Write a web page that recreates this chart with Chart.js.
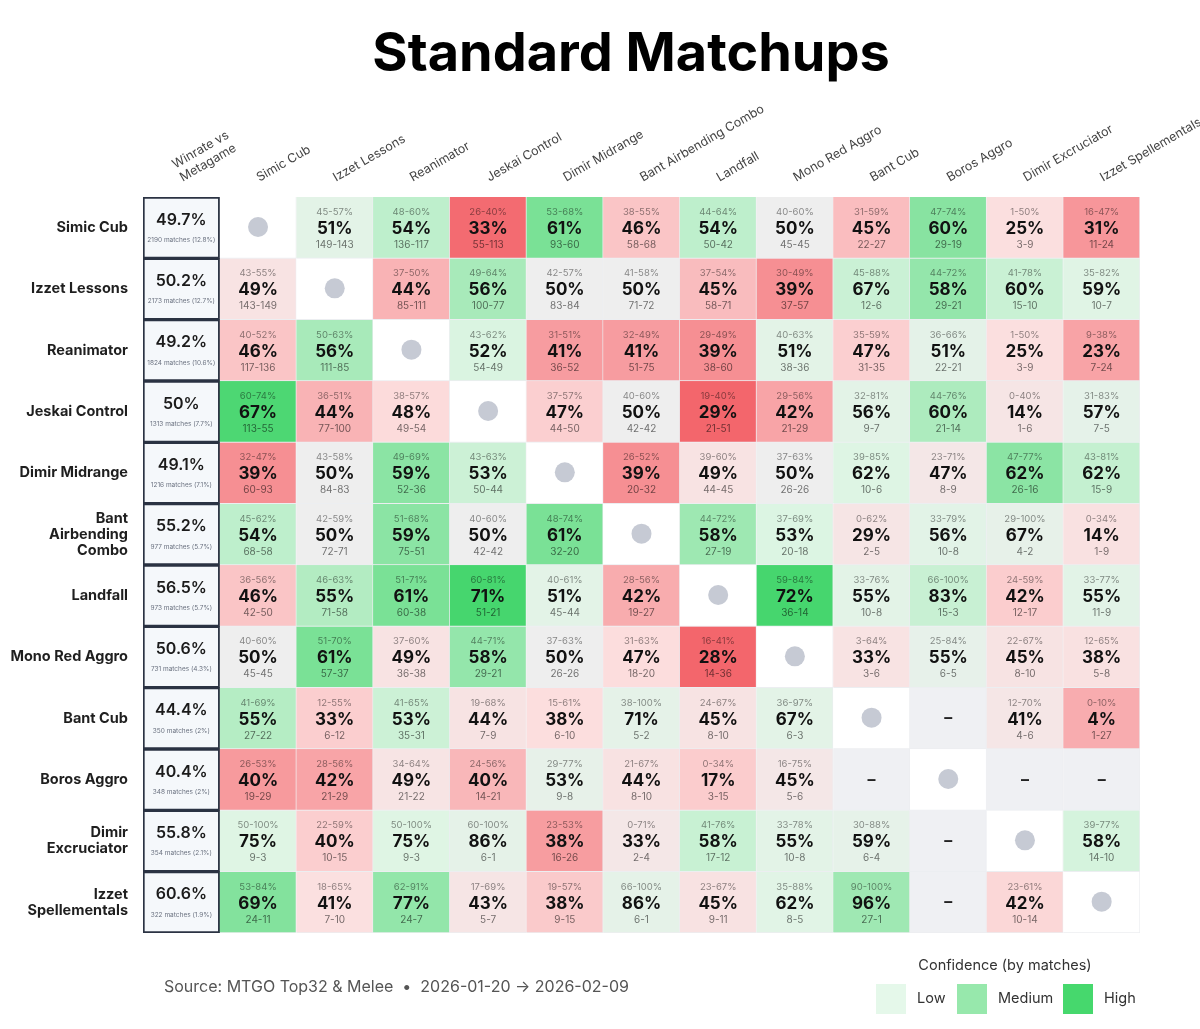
<!DOCTYPE html>
<html>
<head>
<meta charset="utf-8">
<script src="https://cdn.jsdelivr.net/npm/chart.js@4.4.1/dist/chart.umd.min.js"></script>
<style>
  body { margin: 0; background: #fff; }
  canvas { display: block; }
</style>
</head>
<body>
<canvas id="MatchupChart" width="1200" height="1029"></canvas>
<script>
// decks, in row / column order
const decks = ['Simic Cub', 'Izzet Lessons', 'Reanimator', 'Jeskai Control', 'Dimir Midrange', 'Bant Airbending Combo',
    'Landfall', 'Mono Red Aggro', 'Bant Cub', 'Boros Aggro', 'Dimir Excruciator', 'Izzet Spellementals'];
const rowLabels = [['Simic Cub'], ['Izzet Lessons'], ['Reanimator'], ['Jeskai Control'], ['Dimir Midrange'],
    ['Bant', 'Airbending', 'Combo'], ['Landfall'], ['Mono Red Aggro'], ['Bant Cub'], ['Boros Aggro'],
    ['Dimir', 'Excruciator'], ['Izzet', 'Spellementals']];
const colLabels = [['Winrate vs', 'Metagame']].concat(decks);

// overall column
const overallWr = [49.7, 50.2, 49.2, 50, 49.1, 55.2, 56.5, 50.6, 44.4, 40.4, 55.8, 60.6];
const totalMatches = [2190, 2173, 1824, 1313, 1216, 977, 973, 731, 350, 348, 354, 322];
const metaShare = [12.8, 12.7, 10.6, 7.7, 7.1, 5.7, 5.7, 4.3, 2, 2, 2.1, 1.9];

// matchup winrate (%), null = mirror or no data
const winPct = [
    [null, 51, 54, 33, 61, 46, 54, 50, 45, 60, 25, 31],
    [49, null, 44, 56, 50, 50, 45, 39, 67, 58, 60, 59],
    [46, 56, null, 52, 41, 41, 39, 51, 47, 51, 25, 23],
    [67, 44, 48, null, 47, 50, 29, 42, 56, 60, 14, 57],
    [39, 50, 59, 53, null, 39, 49, 50, 62, 47, 62, 62],
    [54, 50, 59, 50, 61, null, 58, 53, 29, 56, 67, 14],
    [46, 55, 61, 71, 51, 42, null, 72, 55, 83, 42, 55],
    [50, 61, 49, 58, 50, 47, 28, null, 33, 55, 45, 38],
    [55, 33, 53, 44, 38, 71, 45, 67, null, null, 41, 4],
    [40, 42, 49, 40, 53, 44, 17, 45, null, null, null, null],
    [75, 40, 75, 86, 38, 33, 58, 55, 59, null, null, 58],
    [69, 41, 77, 43, 38, 86, 45, 62, 96, null, 42, null]
];
const ciLow = [
    [null, 45, 48, 26, 53, 38, 44, 40, 31, 47, 1, 16],
    [43, null, 37, 49, 42, 41, 37, 30, 45, 44, 41, 35],
    [40, 50, null, 43, 31, 32, 29, 40, 35, 36, 1, 9],
    [60, 36, 38, null, 37, 40, 19, 29, 32, 44, 0, 31],
    [32, 43, 49, 43, null, 26, 39, 37, 39, 23, 47, 43],
    [45, 42, 51, 40, 48, null, 44, 37, 0, 33, 29, 0],
    [36, 46, 51, 60, 40, 28, null, 59, 33, 66, 24, 33],
    [40, 51, 37, 44, 37, 31, 16, null, 3, 25, 22, 12],
    [41, 12, 41, 19, 15, 38, 24, 36, null, null, 12, 0],
    [26, 28, 34, 24, 29, 21, 0, 16, null, null, null, null],
    [50, 22, 50, 60, 23, 0, 41, 33, 30, null, null, 39],
    [53, 18, 62, 17, 19, 66, 23, 35, 90, null, 23, null]
];
const ciHigh = [
    [null, 57, 60, 40, 68, 55, 64, 60, 59, 74, 50, 47],
    [55, null, 50, 64, 57, 58, 54, 49, 88, 72, 78, 82],
    [52, 63, null, 62, 51, 49, 49, 63, 59, 66, 50, 38],
    [74, 51, 57, null, 57, 60, 40, 56, 81, 76, 40, 83],
    [47, 58, 69, 63, null, 52, 60, 63, 85, 71, 77, 81],
    [62, 59, 68, 60, 74, null, 72, 69, 62, 79, 100, 34],
    [56, 63, 71, 81, 61, 56, null, 84, 76, 100, 59, 77],
    [60, 70, 60, 71, 63, 63, 41, null, 64, 84, 67, 65],
    [69, 55, 65, 68, 61, 100, 67, 97, null, null, 70, 10],
    [53, 56, 64, 56, 77, 67, 34, 75, null, null, null, null],
    [100, 59, 100, 100, 53, 71, 76, 78, 88, null, null, 77],
    [84, 65, 91, 69, 57, 100, 67, 88, 100, null, 61, null]
];
const wins = [
    [null, 149, 136, 55, 93, 58, 50, 45, 22, 29, 3, 11],
    [143, null, 85, 100, 83, 71, 58, 37, 12, 29, 15, 10],
    [117, 111, null, 54, 36, 51, 38, 38, 31, 22, 3, 7],
    [113, 77, 49, null, 44, 42, 21, 21, 9, 21, 1, 7],
    [60, 84, 52, 50, null, 20, 44, 26, 10, 8, 26, 15],
    [68, 72, 75, 42, 32, null, 27, 20, 2, 10, 4, 1],
    [42, 71, 60, 51, 45, 19, null, 36, 10, 15, 12, 11],
    [45, 57, 36, 29, 26, 18, 14, null, 3, 6, 8, 5],
    [27, 6, 35, 7, 6, 5, 8, 6, null, null, 4, 1],
    [19, 21, 21, 14, 9, 8, 3, 5, null, null, null, null],
    [9, 10, 9, 6, 16, 2, 17, 10, 6, null, null, 14],
    [24, 7, 24, 5, 9, 6, 9, 8, 27, null, 10, null]
];
const losses = [
    [null, 143, 117, 113, 60, 68, 42, 45, 27, 19, 9, 24],
    [149, null, 111, 77, 84, 72, 71, 57, 6, 21, 10, 7],
    [136, 85, null, 49, 52, 75, 60, 36, 35, 21, 9, 24],
    [55, 100, 54, null, 50, 42, 51, 29, 7, 14, 6, 5],
    [93, 83, 36, 44, null, 32, 45, 26, 6, 9, 16, 9],
    [58, 71, 51, 42, 20, null, 19, 18, 5, 8, 2, 9],
    [50, 58, 38, 21, 44, 27, null, 14, 8, 3, 17, 9],
    [45, 37, 38, 21, 26, 20, 36, null, 6, 5, 10, 8],
    [22, 12, 31, 9, 10, 2, 10, 3, null, null, 6, 27],
    [29, 29, 22, 21, 8, 10, 15, 6, null, null, null, null],
    [3, 15, 3, 1, 26, 4, 12, 8, 4, null, null, 10],
    [11, 10, 7, 7, 15, 1, 11, 5, 1, null, 14, null]
];

const FONT = 'Inter, "Noto Sans", sans-serif';

function mix(a, b, t) {
    return a.map((v, i) => Math.round(v + (b[i] - v) * t));
}
const NEUTRAL = [238, 238, 238];
const RED_L = [252, 222, 222], RED_H = [243, 102, 108];
const GRN_L = [222, 245, 228], GRN_H = [70, 214, 110];

function cellColor(p, n) {
    const dev = Math.pow(Math.min(1, Math.abs(p - 50) / 18), 0.6);
    const conf = Math.min(1, n / 50);
    const t = dev * conf;
    const L = p < 50 ? RED_L : GRN_L;
    const H = p < 50 ? RED_H : GRN_H;
    let c;
    if (t < 0.25) c = mix(NEUTRAL, L, t / 0.25);
    else c = mix(L, H, (t - 0.25) / 0.75);
    return 'rgb(' + c.join(',') + ')';
}

const datasets = decks.map((deck, r) => {
    const data = [], bg = [], bc = [], bw = [];
    for (let c = 0; c <= decks.length; c++) {
        data.push([r, r + 1]);
        if (c === 0) {
            bg.push('#f5f8fb');
            bc.push('#2b3343');
            bw.push(2);
            continue;
        }
        const m = c - 1;
        bc.push('#eceef1');
        bw.push({ top: 0, left: 0, right: 1, bottom: 1 });
        if (m === r) bg.push('#ffffff');
        else if (winPct[r][m] === null) bg.push('#eff0f3');
        else bg.push(cellColor(winPct[r][m], wins[r][m] + losses[r][m]));
    }
    return {
        label: deck,
        data: data,
        backgroundColor: bg,
        borderColor: bc,
        borderWidth: bw,
        borderSkipped: false,
        grouped: false,
        barPercentage: 1,
        categoryPercentage: 1
    };
});

const cellText = {
    id: 'cellText',
    afterDatasetsDraw(chart) {
        const ctx = chart.ctx;
        ctx.save();
        ctx.textAlign = 'center';
        ctx.textBaseline = 'middle';
        chart.data.datasets.forEach((ds, r) => {
            chart.getDatasetMeta(r).data.forEach((bar, c) => {
                const p = bar.getProps(['x', 'y', 'base'], true);
                const top = Math.min(p.y, p.base);
                const x = p.x;
                if (c === 0) {
                    ctx.fillStyle = '#1b1b1b';
                    ctx.font = '600 16px ' + FONT;
                    ctx.fillText(overallWr[r] + '%', x, top + 23);
                    ctx.fillStyle = '#6b7280';
                    ctx.font = '6.5px ' + FONT;
                    ctx.fillText(totalMatches[r] + ' matches (' + metaShare[r] + '%)', x, top + 43);
                    return;
                }
                const m = c - 1;
                if (m === r) {
                    ctx.fillStyle = '#c6cad4';
                    ctx.beginPath();
                    ctx.arc(x, top + 30, 10, 0, Math.PI * 2);
                    ctx.fill();
                    return;
                }
                if (winPct[r][m] === null) {
                    ctx.fillStyle = '#222';
                    ctx.font = 'bold 16px ' + FONT;
                    ctx.fillText('–', x, top + 31);
                    return;
                }
                ctx.fillStyle = 'rgba(0,0,0,0.45)';
                ctx.font = '9.5px ' + FONT;
                ctx.fillText(ciLow[r][m] + '-' + ciHigh[r][m] + '%', x, top + 15);
                ctx.fillStyle = '#111';
                ctx.font = 'bold 17px ' + FONT;
                ctx.fillText(winPct[r][m] + '%', x, top + 32);
                ctx.fillStyle = 'rgba(0,0,0,0.55)';
                ctx.font = '10px ' + FONT;
                ctx.fillText(wins[r][m] + '-' + losses[r][m], x, top + 48);
            });
        });
        ctx.restore();
    }
};

const decorations = {
    id: 'decorations',
    afterDraw(chart) {
        const ctx = chart.ctx;
        ctx.save();
        ctx.fillStyle = '#000';
        ctx.textAlign = 'center';
        ctx.textBaseline = 'middle';
        ctx.font = 'bold 54px ' + FONT;
        ctx.fillText('Standard Matchups', 631, 55);

        ctx.textAlign = 'left';
        ctx.fillStyle = '#555';
        ctx.font = '16px ' + FONT;
        ctx.fillText('Source: MTGO Top32 & Melee  \u2022  2026-01-20 \u2192 2026-02-09', 164, 987);

        ctx.textAlign = 'center';
        ctx.fillStyle = '#333';
        ctx.font = '14.5px ' + FONT;
        ctx.fillText('Confidence (by matches)', 1005, 966);

        const swatches = [['Low', '#e5f8ea', 876], ['Medium', '#97e8ac', 957], ['High', '#46d86d', 1063]];
        ctx.textAlign = 'left';
        ctx.font = '14.5px ' + FONT;
        swatches.forEach(s => {
            ctx.fillStyle = s[1];
            ctx.fillRect(s[2], 984, 30, 30);
            ctx.fillStyle = '#333';
            ctx.fillText(s[0], s[2] + 41, 999);
        });
        ctx.restore();
    }
};

const mc = document.getElementById('MatchupChart').getContext('2d');
const matchupChart = new Chart(mc, {
    type: 'bar',
    data: {
        labels: colLabels,
        datasets: datasets
    },
    options: {
        responsive: false,
        animation: false,
        layout: {
            padding: { top: 0, left: 0, right: 60, bottom: 96 }
        },
        plugins: {
            legend: { display: false },
            tooltip: { enabled: false },
            title: { display: false }
        },
        scales: {
            x: {
                position: 'top',
                offset: true,
                grid: { display: false, drawTicks: false },
                border: { display: false },
                ticks: {
                    autoSkip: false,
                    maxRotation: 30,
                    minRotation: 30,
                    padding: 12,
                    labelOffset: 7,
                    color: '#444',
                    font: { family: FONT, size: 12.5 }
                },
                afterFit: s => {
                    s.height = 197;
                    s.paddingLeft = 0;
                    s.paddingRight = 0;
                }
            },
            y: {
                type: 'linear',
                reverse: true,
                min: 0,
                max: 12,
                grid: { display: false, drawTicks: false },
                border: { display: false },
                afterBuildTicks: s => { s.ticks = decks.map((d, i) => ({ value: i + 0.5 })); },
                ticks: {
                    callback: (v, i) => rowLabels[i],
                    color: '#1f1f1f',
                    padding: 15,
                    font: { family: FONT, size: 14.5, weight: 'bold', lineHeight: 1.1 }
                },
                afterFit: s => {
                    s.width = 143;
                    s.paddingTop = 0;
                    s.paddingBottom = 0;
                }
            }
        }
    },
    plugins: [cellText, decorations]
});
</script>
</body>
</html>
